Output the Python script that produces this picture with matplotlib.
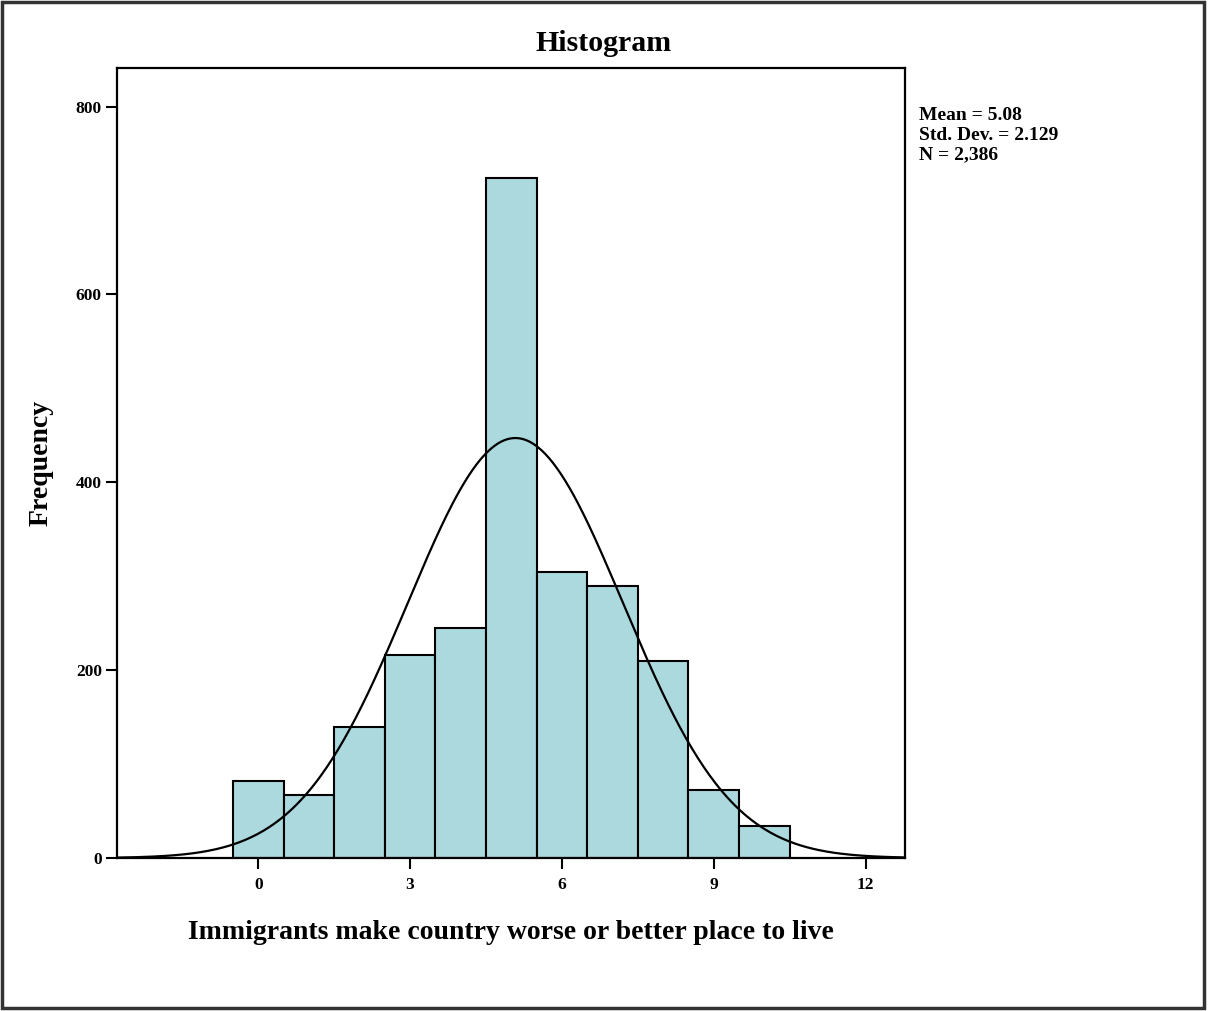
import numpy as np
import matplotlib
matplotlib.use('Agg')
import matplotlib.pyplot as plt
from matplotlib.patches import Rectangle

# ------------------------
# data
# ------------------------

bins = [0, 1, 2, 3, 4, 5, 6, 7, 8, 9, 10]
freq = [82, 67, 140, 216, 245, 724, 304, 290, 210, 72, 34]

mean = 5.08
std_dev = 2.129
n_obs = 2386

x_ticks = [0, 3, 6, 9, 12]
y_ticks = [0, 200, 400, 600, 800]

plt.rcParams['font.family'] = ['Liberation Serif', 'DejaVu Serif']
plt.rcParams['font.weight'] = 'bold'

fig = plt.figure(figsize=(12.08, 10.11), dpi=100)
ax = fig.add_axes([0.0969, 0.1513, 0.6523, 0.7814])

# bars of width 1 centred on each value
ax.bar(bins, freq, width=1.0, color='#acd9de', edgecolor='black', linewidth=1.5, zorder=2)

# fitted normal curve scaled to counts
xs = np.linspace(-2.79, 12.78, 400)
pdf = np.exp(-0.5 * ((xs - mean) / std_dev) ** 2) / (std_dev * np.sqrt(2 * np.pi))
ax.plot(xs, n_obs * 1.0 * pdf, color='black', linewidth=1.6, zorder=3)

ax.set_xlim(-2.79, 12.78)
ax.set_ylim(0, 841)
ax.set_xticks(x_ticks)
ax.set_yticks(y_ticks)
ax.tick_params(axis='both', direction='out', length=8, width=1.5, labelsize=12.5, pad=3)
ax.tick_params(axis='x', pad=6)
for lab in ax.get_xticklabels() + ax.get_yticklabels():
    lab.set_fontweight('bold')
for sp in ax.spines.values():
    sp.set_linewidth(1.6)

# title sits over the middle of the whole figure
fig.text(0.5, 0.957, 'Histogram', fontsize=21.5, fontweight='bold', ha='center', va='center')
ax.set_xlabel('Immigrants make country worse or better place to live', fontsize=20, fontweight='bold', labelpad=19)
ax.set_ylabel('Frequency', fontsize=20, fontweight='bold', labelpad=16)

# summary stats box to the right
stats = 'Mean = %.2f\nStd. Dev. = %.3f\nN = %s' % (mean, std_dev, format(n_obs, ','))
fig.text(0.761, 0.894, stats, fontsize=14, fontweight='bold', va='top', ha='left', linespacing=1.2)

# outer border around the figure
fig.patches.append(Rectangle((0.002, 0.003), 0.995, 0.995, transform=fig.transFigure,
                             fill=False, edgecolor='#333333', linewidth=2.5))

fig.savefig('out.png', dpi=100)
